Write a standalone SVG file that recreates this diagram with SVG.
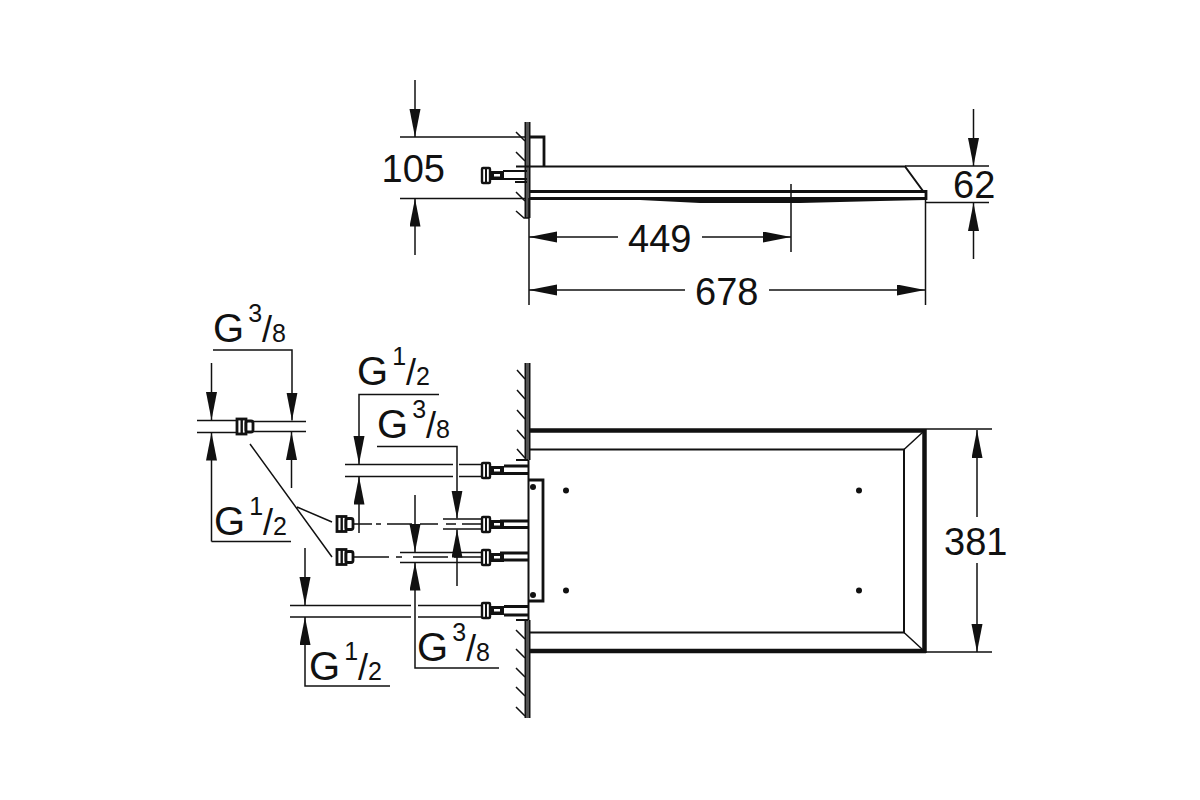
<svg xmlns="http://www.w3.org/2000/svg" width="1200" height="800" viewBox="0 0 1200 800">
<defs>
<marker id="ah" markerUnits="userSpaceOnUse" markerWidth="30" markerHeight="12" refX="28" refY="5.500" orient="auto-start-reverse"><path d="M0 0L28 5.500L0 11Z" fill="#111"/></marker>
<g id="nutL"><rect x="0" y="0" width="9" height="15" fill="#fff" stroke="#111" stroke-width="2.800"/><rect x="3.500" y="0" width="2.400" height="15" fill="#111"/><rect x="9" y="2" width="7" height="11" rx="2" fill="#fff" stroke="#111" stroke-width="2.800"/></g>
<g id="nutR"><rect x="0" y="0" width="8" height="15" rx="1" fill="#fff" stroke="#111" stroke-width="2.400"/><rect x="3" y="1" width="2" height="13" fill="#111"/><rect x="8" y="3" width="14" height="9" fill="#111"/><rect x="12" y="6" width="6" height="2.500" fill="#fff"/></g>
</defs>
<style>
text{font-family:"Liberation Sans",Arial,sans-serif;font-size:38px;fill:#111}
.g{font-size:40px}.s{font-size:25px}.sl{font-size:36px}
.t{fill:none;stroke:#111;stroke-width:1.500}
.m{fill:none;stroke:#111;stroke-width:2}
.b{fill:none;stroke:#111;stroke-width:2.800}
.h{fill:none;stroke:#111;stroke-width:4.500}
.a{marker-end:url(#ah)}
.d{fill:#111}
</style>
<rect width="1200" height="800" fill="#fff"/>
<g id="top-view">
<path class="m" d="M525.500 122V218M529.500 122V218"/><path d="M526 122h3v96h-3z" fill="#555"/>
<path class="t" d="M516 132l9 9M516 152l9 9M516 192l9 9M516 211l8 7h5"/>
<path class="b" d="M530 137H544V166"/>
<path class="m" d="M516 166.500H905L923 191"/>
<path class="b" d="M530 191.500H926"/>
<path d="M530 197H926V200L880 201L800 203L700 203L640 200H530Z" fill="#111"/>
<path class="b" d="M926 190V200"/>
<path class="m" d="M515 182H527"/>
<use href="#nutR" x="482" y="168"/>
<path class="m" d="M503 171H527M503 179H527"/>
</g>
<g id="plan-view">
<path class="m" d="M525.500 363V460M529.500 363V460M525.500 620V718M529.500 620V718"/><path d="M526 363h3v97h-3zM526 620h3v98h-3z" fill="#555"/>
<path class="m" d="M528.500 460V620"/>
<path class="t" d="M517 370l8 9M517 390l8 9M517 410l8 9M517 430l8 9M517 449l8 9M516 630l9 9M516 649l9 9M516 668l9 9M516 687l9 9M516 707l9 9"/>
<path class="m" d="M516 460H528M516 620H528"/>
<path class="h" d="M530 430.500H926M924.500 429V653M530 651H926"/>
<path class="m" d="M530 449.500H904V632.500H530"/>
<path class="t" d="M923 432L904 449.500M904 632.500L923 650"/>
<path class="b" d="M528 480H543V601H528"/>
<circle class="d" cx="533" cy="487" r="3"/><circle class="d" cx="533" cy="595" r="3"/>
<circle class="d" cx="566" cy="490.500" r="3"/><circle class="d" cx="566" cy="590.500" r="3"/>
<circle class="d" cx="859" cy="490.500" r="3"/><circle class="d" cx="859" cy="590.500" r="3"/>
</g>
<g id="fittings">
<use href="#nutR" x="482" y="463"/><path class="b" d="M504 466H528M504 473.500H528"/>
<use href="#nutR" x="482" y="517"/><path class="b" d="M500 521H528M500 527.500H528"/>
<use href="#nutR" x="482" y="550"/><path class="b" d="M500 553H528M500 560H528"/>
<use href="#nutR" x="482" y="603"/><path class="b" d="M504 606.500H528M504 615H528"/>
<use href="#nutL" x="237" y="419"/>
<use href="#nutL" x="337" y="516.500"/>
<use href="#nutL" x="337" y="549.500"/>
</g>
<g id="connectors">
<path class="t a" d="M415 80V137"/>
<path class="t" d="M400 137H525M400 198.500H525"/>
<path class="t a" d="M415 255V198.500"/>
<path class="t" d="M529 198V305M925.500 198V305M791 184V252"/>
<path class="t a" d="M618 237H529"/><path class="t a" d="M702 237H791"/>
<path class="t a" d="M685 290H529"/><path class="t a" d="M769 290H925"/>
<path class="t" d="M905 166H989M926 202.500H989"/>
<path class="t a" d="M973.500 109V166"/><path class="t a" d="M973.500 259V203"/>
<path class="t" d="M926 429H992M926 652H992"/>
<path class="t a" d="M977 517V430"/><path class="t a" d="M977 563V652"/>

<path class="t" d="M197 420.500H237M197 432.500H237M252 421.500H306M252 431.500H306"/>
<path class="t a" d="M211.500 363V420"/>
<path class="t a" d="M211.500 541.500V432.500"/><path class="t" d="M211.500 541.500H291"/>
<path class="t a" d="M213 350H292V420.500"/>
<path class="t a" d="M291.500 488V432"/>
<path class="t" d="M250 444L332 557M297 507L332 522"/>

<path class="t a" d="M439 394.500H359V464"/>
<path class="t" d="M345 464.500H453M459 464.500H482M345 476.500H453M459 476.500H482"/>
<path class="t a" d="M359 533V476.500"/>
<path class="t a" d="M377 446.500H457V518.500"/>
<path class="t" d="M443 519H482M443 529H482"/>
<path class="t a" d="M457 586V529.500"/>
<path class="t a" d="M415 495V552"/>
<path class="t" d="M400 552.500H482M400 562.500H482"/>
<path class="t a" d="M499 668H415V562.500"/>
<path class="t" d="M353 524H372M376 524H381M387 524H412M420 524H438M446 524H456M462 524H482M353 557H389M396 557H402M413 557H448M454 557H482"/>
<path class="t a" d="M305 548V605"/>
<path class="t" d="M290 605.500H411M418 605.500H482M290 617H411M418 617H482"/>
<path class="t a" d="M390 686H305V617"/>
</g>
<g id="labels">
<text x="381.500" y="182">105</text>
<text x="628" y="252">449</text>
<text x="695" y="305">678</text>
<text x="953" y="198">62</text>
<text x="944" y="555">381</text>
<text class="g" x="213" y="342">G<tspan class="s" dx="4" dy="-20">3</tspan><tspan class="sl" dx="0" dy="20">/</tspan><tspan class="s" dx="0">8</tspan></text>
<text class="g" x="357" y="385">G<tspan class="s" dx="4" dy="-20">1</tspan><tspan class="sl" dx="0" dy="20">/</tspan><tspan class="s" dx="0">2</tspan></text>
<text class="g" x="377" y="438">G<tspan class="s" dx="4" dy="-20">3</tspan><tspan class="sl" dx="0" dy="20">/</tspan><tspan class="s" dx="0">8</tspan></text>
<text class="g" x="214" y="535">G<tspan class="s" dx="4" dy="-20">1</tspan><tspan class="sl" dx="0" dy="20">/</tspan><tspan class="s" dx="0">2</tspan></text>
<text class="g" x="417" y="661">G<tspan class="s" dx="4" dy="-20">3</tspan><tspan class="sl" dx="0" dy="20">/</tspan><tspan class="s" dx="0">8</tspan></text>
<text class="g" x="309" y="680">G<tspan class="s" dx="4" dy="-20">1</tspan><tspan class="sl" dx="0" dy="20">/</tspan><tspan class="s" dx="0">2</tspan></text>
</g>
</svg>
